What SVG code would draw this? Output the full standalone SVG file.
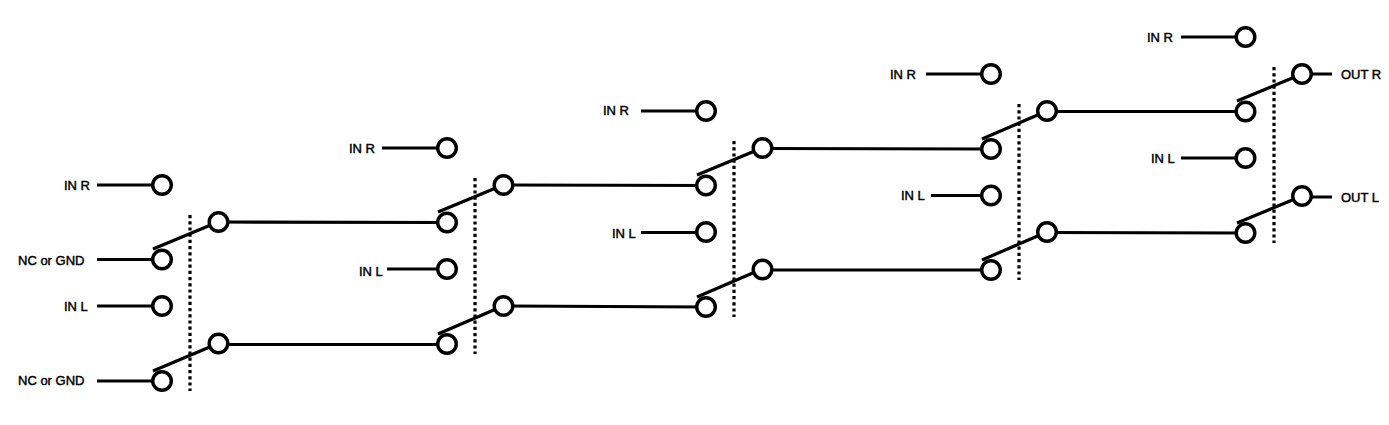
<svg xmlns="http://www.w3.org/2000/svg" width="1389" height="425" viewBox="0 0 1389 425">
<style>
.w{fill:none;stroke:#000;stroke-width:3.200}
.d{fill:none;stroke:#000;stroke-width:3.200;stroke-dasharray:3.200 3}
.n{fill:#fff;stroke:#000;stroke-width:3.400}
.t{font:13px "Liberation Sans",Arial,sans-serif;fill:#000;stroke:#000;stroke-width:.45}
</style>
<rect width="1389" height="425" fill="#fff"/>
<g id="connectors">
<path class="w" d="M97 185H162M97 259.500H162M97 306H162M97 381H162"/>
<path class="w" d="M153 249L218 222M153 371L218 343.500"/>
<path class="w" d="M218 222L447 222.500M218 344.500H447"/>
<path class="d" d="M190 215V391"/>
<path class="w" d="M382 148H447M387 269H447"/>
<path class="w" d="M438 212L503 185M438 334L503 306"/>
<path class="w" d="M503 185L706 185.500M503 306L706 307"/>
<path class="d" d="M475 178V354"/>
<path class="w" d="M641 111H706M641 232.500H706"/>
<path class="w" d="M697 175L762 148M697 297L762 269"/>
<path class="w" d="M762 148.500L991 149M762 270H991"/>
<path class="d" d="M734 141V317"/>
<path class="w" d="M926 74H991M931 195.500H991"/>
<path class="w" d="M982 139L1047 111M982 260L1047 232"/>
<path class="w" d="M1047 111.500H1245M1047 232.500L1245 233"/>
<path class="d" d="M1019 104V280"/>
<path class="w" d="M1181 37H1245M1181 158H1245"/>
<path class="w" d="M1237 101L1302 74M1237 223L1302 196"/>
<path class="w" d="M1302 74H1332M1302 197H1332"/>
<path class="d" d="M1274 67V243"/>
</g>
<g id="s1">
<circle id="n1a" class="n" cx="162" cy="185" r="9.300"/><circle id="n1b" class="n" cx="162" cy="259.500" r="9.300"/><circle id="n1c" class="n" cx="162" cy="306" r="9.300"/><circle id="n1d" class="n" cx="162" cy="381" r="9.300"/><circle id="n1e" class="n" cx="218.500" cy="222" r="9.300"/><circle id="n1f" class="n" cx="218.500" cy="343.500" r="9.300"/>
</g>
<g id="s2">
<circle id="n2a" class="n" cx="447" cy="148" r="9.300"/><circle id="n2b" class="n" cx="447" cy="222.500" r="9.300"/><circle id="n2c" class="n" cx="447" cy="269" r="9.300"/><circle id="n2d" class="n" cx="447" cy="344" r="9.300"/><circle id="n2e" class="n" cx="503.500" cy="185" r="9.300"/><circle id="n2f" class="n" cx="503.500" cy="306" r="9.300"/>
</g>
<g id="s3">
<circle id="n3a" class="n" cx="706" cy="111" r="9.300"/><circle id="n3b" class="n" cx="706" cy="185.500" r="9.300"/><circle id="n3c" class="n" cx="706" cy="232" r="9.300"/><circle id="n3d" class="n" cx="706" cy="307" r="9.300"/><circle id="n3e" class="n" cx="762.500" cy="148" r="9.300"/><circle id="n3f" class="n" cx="762.500" cy="269.500" r="9.300"/>
</g>
<g id="s4">
<circle id="n4a" class="n" cx="991" cy="74" r="9.300"/><circle id="n4b" class="n" cx="991" cy="149" r="9.300"/><circle id="n4c" class="n" cx="991" cy="195.500" r="9.300"/><circle id="n4d" class="n" cx="991" cy="270" r="9.300"/><circle id="n4e" class="n" cx="1047" cy="111" r="9.300"/><circle id="n4f" class="n" cx="1047" cy="232" r="9.300"/>
</g>
<g id="s5">
<circle id="n5a" class="n" cx="1245.500" cy="37" r="9.300"/><circle id="n5b" class="n" cx="1245.500" cy="111.500" r="9.300"/><circle id="n5c" class="n" cx="1245.500" cy="158" r="9.300"/><circle id="n5d" class="n" cx="1245.500" cy="233" r="9.300"/><circle id="n5e" class="n" cx="1302" cy="74" r="9.300"/><circle id="n5f" class="n" cx="1302" cy="196" r="9.300"/>
</g>
<g id="labels">
<text class="t" x="64" y="190">IN R</text>
<text class="t" x="18" y="265">NC or GND</text>
<text class="t" x="64" y="311">IN L</text>
<text class="t" x="18" y="385">NC or GND</text>
<text class="t" x="349" y="153">IN R</text>
<text class="t" x="359" y="276">IN L</text>
<text class="t" x="603" y="115">IN R</text>
<text class="t" x="612" y="238">IN L</text>
<text class="t" x="890" y="79">IN R</text>
<text class="t" x="901" y="200">IN L</text>
<text class="t" x="1147" y="42">IN R</text>
<text class="t" x="1151" y="163">IN L</text>
<text class="t" x="1341" y="79">OUT R</text>
<text class="t" x="1341" y="202">OUT L</text>
</g>
</svg>
